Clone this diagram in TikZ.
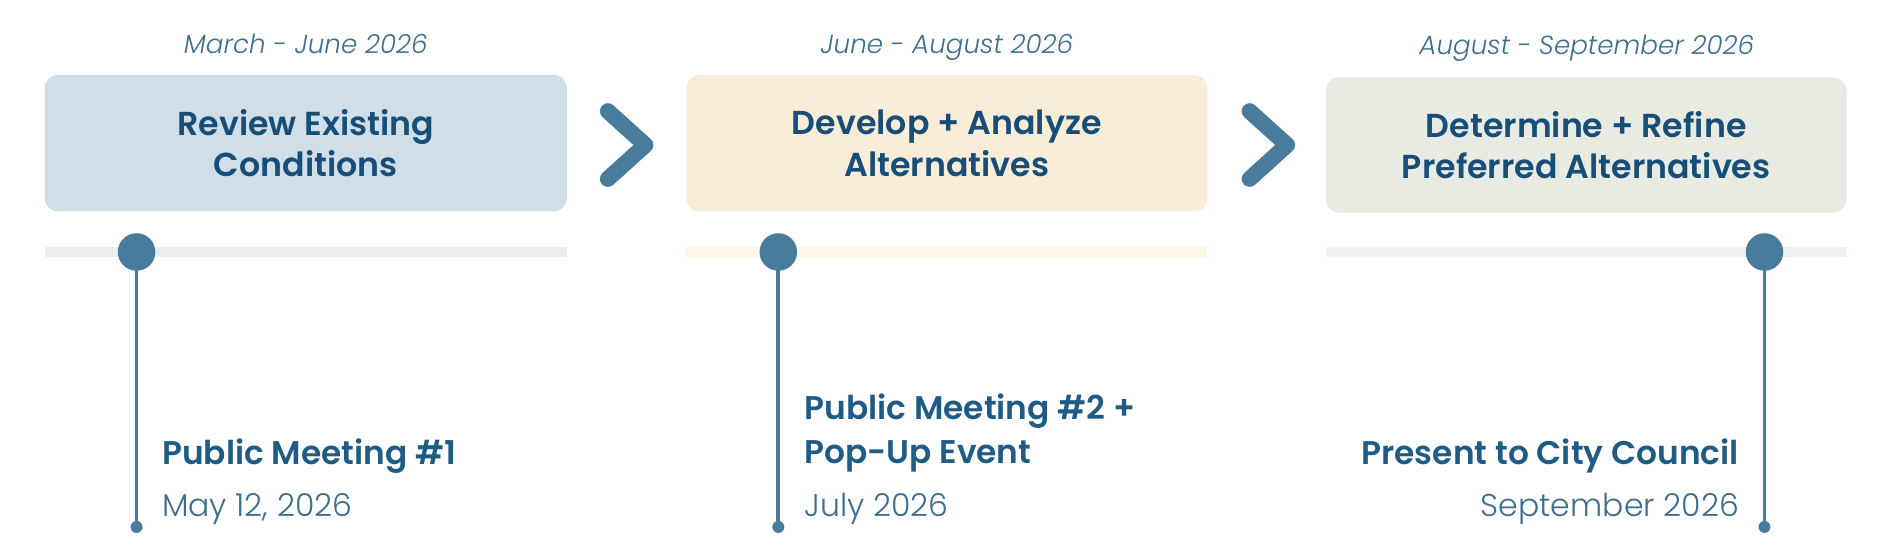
\documentclass[tikz,border=0pt]{standalone}
\usepackage{fontspec}
\setmainfont{Poppins}[UprightFont=* Light, ItalicFont=* Light Italic, BoldFont=* SemiBold]
\newfontfamily\titlefont{Poppins}[UprightFont=* SemiBold]
\definecolor{accent}{HTML}{487B9C}
\definecolor{titlecol}{HTML}{174E78}
\definecolor{boldcol}{HTML}{1F5C85}
\definecolor{datecol}{HTML}{3C6E90}
\definecolor{boxA}{HTML}{D0DEE7}
\definecolor{boxB}{HTML}{FAEDD8}
\definecolor{boxC}{HTML}{E8EBE2}
\definecolor{barA}{HTML}{E8EEF2}
\definecolor{barB}{HTML}{FDF5E6}
\definecolor{barC}{HTML}{F0F2EC}
\tikzset{
  phasebox/.style={rounded corners=13.3pt, draw=none},
  phasetitle/.style={font=\titlefont\fontsize{33.2}{41.7}\selectfont, text=titlecol, align=center, inner sep=0pt},
  phasedate/.style={font=\itshape\fontsize{26.2}{30}\selectfont, text=datecol, anchor=base, inner sep=0pt},
  chev/.style={draw=accent, line width=16pt, line cap=round, line join=round},
  mdot/.style={circle, fill=accent, minimum size=37.5pt, inner sep=0pt},
  enddot/.style={circle, fill=accent, minimum size=12pt, inner sep=0pt},
  stem/.style={draw=accent, line width=3.8pt},
  evtitle/.style={font=\bfseries\fontsize{32.8}{40}\selectfont, text=boldcol, inner sep=0pt},
  evdate/.style={font=\fontsize{31.5}{38}\selectfont, text=datecol, inner sep=0pt},
}
\begin{document}
\begin{tikzpicture}[x=1.2085pt,y=-1.2085pt]
\useasboundingbox[fill=white] (0,0) rectangle (1568,462.55);
% boxes
\fill[phasebox, boxA] (37,62) rectangle (469,175);
\fill[phasebox, boxB] (568,62) rectangle (999,175);
\fill[phasebox, boxC] (1097,64) rectangle (1528,176);
\node[phasetitle] (t1) at (253,118.5) {Review Existing\\Conditions};
\node[phasetitle] (t2) at (783.5,118.5) {Develop + Analyze\\Alternatives};
\node[phasetitle] (t3) at (1312.5,120) {Determine + Refine\\Preferred Alternatives};
% dates
\node[phasedate] (d1) at (253,44) {March - June 2026};
\node[phasedate] (d2) at (783.5,44) {June - August 2026};
\node[phasedate] (d3) at (1313,45.5) {August - September 2026};
% chevrons
\coordinate (c1a) at (503,92); \coordinate (c1b) at (534,120); \coordinate (c1c) at (503,148);
\coordinate (c2a) at (1034,92); \coordinate (c2b) at (1065,120); \coordinate (c2c) at (1034,148);
\draw[chev] (c1a) -- (c1b) -- (c1c);
\draw[chev] (c2a) -- (c2b) -- (c2c);
% bars
\fill[barA] (37,204) rectangle (469,212.5);
\fill[barB] (568,204) rectangle (999,212.5);
\fill[barC] (1097,204) rectangle (1528,212.5);
% milestones
\node[enddot] (e1) at (113,436) {};
\node[enddot] (e2) at (644,436) {};
\node[enddot] (e3) at (1460,436) {};
\draw[stem] (113,208.5) -- (e1.center);
\draw[stem] (644,208.5) -- (e2.center);
\draw[stem] (1460,208.5) -- (e3.center);
\node[mdot] (m1) at (113,208.5) {};
\node[mdot] (m2) at (644,208.5) {};
\node[mdot] (m3) at (1460,208.5) {};
% event texts
\node[evtitle, anchor=base west] (ev1) at (134,384.5) {Public Meeting \#1};
\node[evdate, anchor=base west] (ed1) at (134,427) {May 12, 2026};
\node[evtitle, anchor=base west] (ev2a) at (665.5,347) {Public Meeting \#2 +};
\node[evtitle, anchor=base west] (ev2b) at (665.5,383.5) {Pop-Up Event};
\node[evdate, anchor=base west] (ed2) at (665.5,427) {July 2026};
\node[evtitle, anchor=base east] (ev3) at (1439,384.5) {Present to City Council};
\node[evdate, anchor=base east] (ed3) at (1439,427) {September 2026};
\end{tikzpicture}
\end{document}
